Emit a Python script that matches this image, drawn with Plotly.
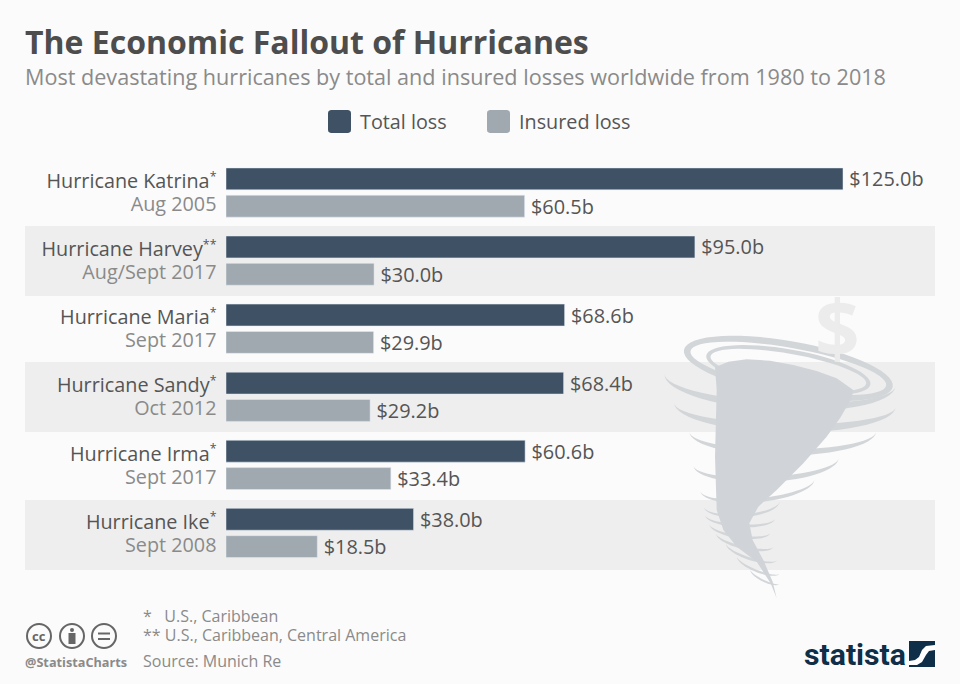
import numpy as np
import plotly.graph_objects as go

W, H = 960, 684

names = ["Hurricane Katrina", "Hurricane Harvey", "Hurricane Maria", "Hurricane Sandy", "Hurricane Irma", "Hurricane Ike"]
marks = ["*", "**", "*", "*", "*", "*"]
dates = ["Aug 2005", "Aug/Sept 2017", "Sept 2017", "Oct 2012", "Sept 2017", "Sept 2008"]
total_loss = [125.0, 95.0, 68.6, 68.4, 60.6, 38.0]
insured_loss = [60.5, 30.0, 29.9, 29.2, 33.4, 18.5]

DARK = "#3f5265"
LIGHT = "#a0a8b0"
TEXT = "#555555"
GREY = "#8a8a8a"
BAND = "#eeeeee"
BG = "#fbfbfb"
NAVY = "#0f2e47"
FUNNEL = "#d0d4d8"
RING = "#d3d6d9"


def px(x):
    return x / W


def py(y):
    return 1 - y / H


def path_px(points):
    return "M " + " L ".join(f"{px(x):.5f},{py(y):.5f}" for x, y in points) + " Z"


def box(x0, y0, x1, y1, color):
    return dict(type="rect", xref="paper", yref="paper", x0=px(x0), x1=px(x1), y0=py(y0), y1=py(y1),
                fillcolor=color, line_width=0, layer="below")


def rounded(x0, y0, x1, y1, r, color):
    pts = []
    for cx, cy, a0 in [(x1 - r, y0 + r, -90), (x1 - r, y1 - r, 0), (x0 + r, y1 - r, 90), (x0 + r, y0 + r, 180)]:
        for a in np.radians(np.arange(a0, a0 + 91, 30)):
            pts.append((cx + r * np.cos(a), cy + r * np.sin(a)))
    return dict(type="path", xref="paper", yref="paper", path=path_px(pts), fillcolor=color, line_width=0)


def label(x, y, text, size, color, anchor="left", family="Open Sans"):
    return dict(xref="paper", yref="paper", x=px(x), y=py(y), text=text, showarrow=False, xanchor=anchor,
                xshift=-2 if anchor == "left" else 0, yanchor="middle", align=anchor if anchor != "center" else "center",
                font=dict(family=family, size=size, color=color))


def zoomed(points):
    return [(660 + x / 3, 290 + y / 3) for x, y in points]


def ellipse(cx, cy, rx, ry, tilt, start, end):
    t = np.radians(np.arange(start, end + 1, 6))
    a = np.radians(tilt)
    xs = cx + rx * np.cos(t) * np.cos(a) - ry * np.sin(t) * np.sin(a)
    ys = cy + rx * np.cos(t) * np.sin(a) + ry * np.sin(t) * np.cos(a)
    return list(zip(xs, ys))


def full_ring(cx, cy, rx, ry, tilt, w):
    # outer ellipse with the inner one wound the other way, which leaves a hole
    outer = ellipse(cx, cy, rx, ry, tilt, 0, 360)
    inner = ellipse(cx, cy, rx - w, ry - w, tilt, 0, 360)[::-1]
    d = path_px(zoomed(outer)) + " " + path_px(zoomed(inner))
    return dict(type="path", xref="paper", yref="paper", path=d, fillcolor=RING, line_width=0, layer="below")


def crescent(cx, cy, rx, ry, tilt, w):
    # lower half of a ring, thick at the bottom and pointed at both ends
    outer = ellipse(cx, cy, rx, ry, tilt, 0, 180)
    inner = ellipse(cx, cy, rx, ry - w, tilt, 0, 180)[::-1]
    return dict(type="path", xref="paper", yref="paper", path=path_px(zoomed(outer + inner)), fillcolor=RING,
                line_width=0, layer="below")


shapes = [box(25, 226, 935, 296, BAND), box(25, 362, 935, 432, BAND), box(25, 500, 935, 570, BAND)]

# tornado rings, top to tail
shapes += [
    full_ring(385, 235, 318, 82, 10, 20),
    full_ring(385, 240, 250, 62, 10, 13),
    crescent(360, 270, 347, 92, 3, 24),
    crescent(375, 345, 332, 82, 1, 24),
    crescent(368, 425, 280, 72, 0, 18),
    crescent(318, 515, 218, 62, -3, 16),
    crescent(292, 585, 172, 52, -6, 12),
    crescent(245, 640, 115, 42, -4, 9),
    crescent(240, 680, 105, 32, 3, 9),
    crescent(240, 715, 92, 30, 8, 9),
    crescent(255, 750, 88, 28, 13, 9),
    crescent(275, 785, 80, 26, 18, 8),
    crescent(295, 825, 68, 22, 22, 7),
    crescent(315, 860, 48, 16, 26, 6),
]
funnel = [(165, 232), (205, 215), (260, 208), (330, 212), (400, 225), (470, 243), (530, 265), (580, 300), (575, 325),
          (540, 385), (500, 440), (430, 520), (350, 600), (295, 650), (268, 700), (278, 750), (310, 810), (338, 875),
          (350, 925), (332, 880), (290, 815), (230, 770), (190, 720), (170, 660), (165, 500), (170, 300)]
shapes.append(dict(type="path", xref="paper", yref="paper", path=path_px(zoomed(funnel)), fillcolor=FUNNEL,
                   line_width=0, layer="below"))

# legend swatches
shapes += [rounded(328, 110, 351, 133, 3, DARK), rounded(487, 110, 510, 133, 3, LIGHT)]

# licence icons
for cx in [39, 72, 104]:
    shapes.append(dict(type="circle", xref="paper", yref="paper", x0=px(cx - 12), x1=px(cx + 12), y0=py(648), y1=py(624),
                       line=dict(color="#666666", width=2)))
shapes += [
    dict(type="circle", xref="paper", yref="paper", x0=px(70), x1=px(74), y0=py(632), y1=py(628), fillcolor="#666666", line_width=0),
    dict(type="rect", xref="paper", yref="paper", x0=px(68.5), x1=px(75.5), y0=py(644), y1=py(633), fillcolor="#666666", line_width=0),
    dict(type="rect", xref="paper", yref="paper", x0=px(98), x1=px(110), y0=py(634.5), y1=py(632.5), fillcolor="#666666", line_width=0),
    dict(type="rect", xref="paper", yref="paper", x0=px(98), x1=px(110), y0=py(640), y1=py(638), fillcolor="#666666", line_width=0),
]

# statista mark
shapes.append(dict(type="rect", xref="paper", yref="paper", x0=px(909), x1=px(935), y0=py(667), y1=py(641), fillcolor=NAVY, line_width=0))
wave = [(909, 661), (915, 660), (919, 657), (922, 650), (926, 646), (935, 645), (935, 650), (929, 651), (926, 655),
        (922, 662), (917, 665), (909, 665)]
shapes.append(dict(type="path", xref="paper", yref="paper", path=path_px(wave), fillcolor="white", line_width=0))

annotations = [
    label(25, 41, "<b>The Economic Fallout of Hurricanes</b>", 32, "#4d4d4d"),
    label(25, 76, "Most devastating hurricanes by total and insured losses worldwide from 1980 to 2018", 21.6, GREY),
    label(360, 122, "Total loss", 19.8, TEXT),
    label(519, 122, "Insured loss", 19.8, TEXT),
    label(837, 327, "<b>$</b>", 78, "#ececec", anchor="center"),
    label(143, 625.5, "<span style='font-size:16px'>*&nbsp;&nbsp;&nbsp;U.S., Caribbean</span><br>"
                      "<span style='font-size:16px'>** U.S., Caribbean, Central America</span>", 14.6, GREY),
    label(143, 661, "Source: Munich Re", 16, GREY),
    label(25, 662, "<b>@StatistaCharts</b>", 12.7, GREY),
    label(39, 636, "<b>cc</b>", 13, "#666666", anchor="center"),
    label(804, 654, "<b>statista</b>", 30.2, NAVY, family="Roboto"),
]

ticks = [f"<span style='font-size:19.8px'>{n}</span><sup>{m}</sup><br>"
         f"<span style='color:{GREY};font-size:19.8px'>{d}</span>" for n, m, d in zip(names, marks, dates)]

fig = go.Figure()
fig.add_trace(go.Bar(y=names, x=total_loss, orientation="h", name="Total loss", marker_color=DARK))
fig.add_trace(go.Bar(y=names, x=insured_loss, orientation="h", name="Insured loss", marker_color=LIGHT))

fig.update_traces(texttemplate="\u2009$%{x:.1f}b", textposition="outside", cliponaxis=False, constraintext="none",
                  textfont=dict(family="Open Sans", size=19.9, color=TEXT), hoverinfo="skip")
fig.update_layout(
    width=W, height=H, autosize=False,
    margin=dict(l=0, r=0, t=0, b=0),
    paper_bgcolor=BG, plot_bgcolor="rgba(0,0,0,0)",
    barmode="group", bargap=0.197, bargroupgap=0.2,
    showlegend=False,
    shapes=shapes, annotations=annotations,
    xaxis=dict(domain=[px(226), 1], range=[0, (W - 226) / 4.936], visible=False),
    yaxis=dict(domain=[py(567), py(158.5)], autorange=False, range=[5.5, -0.5], tickmode="array", tickvals=names,
               ticktext=ticks, ticks="outside", ticklen=5, tickcolor="rgba(0,0,0,0)", showgrid=False, showline=False,
               zeroline=False, ticklabelshift=-1, tickfont=dict(family="Open Sans", size=17.7, color=TEXT)),
)

fig.write_html("out.html", config={"displayModeBar": False},
               post_script="document.body.style.margin='0';document.body.style.background='%s';" % BG)
